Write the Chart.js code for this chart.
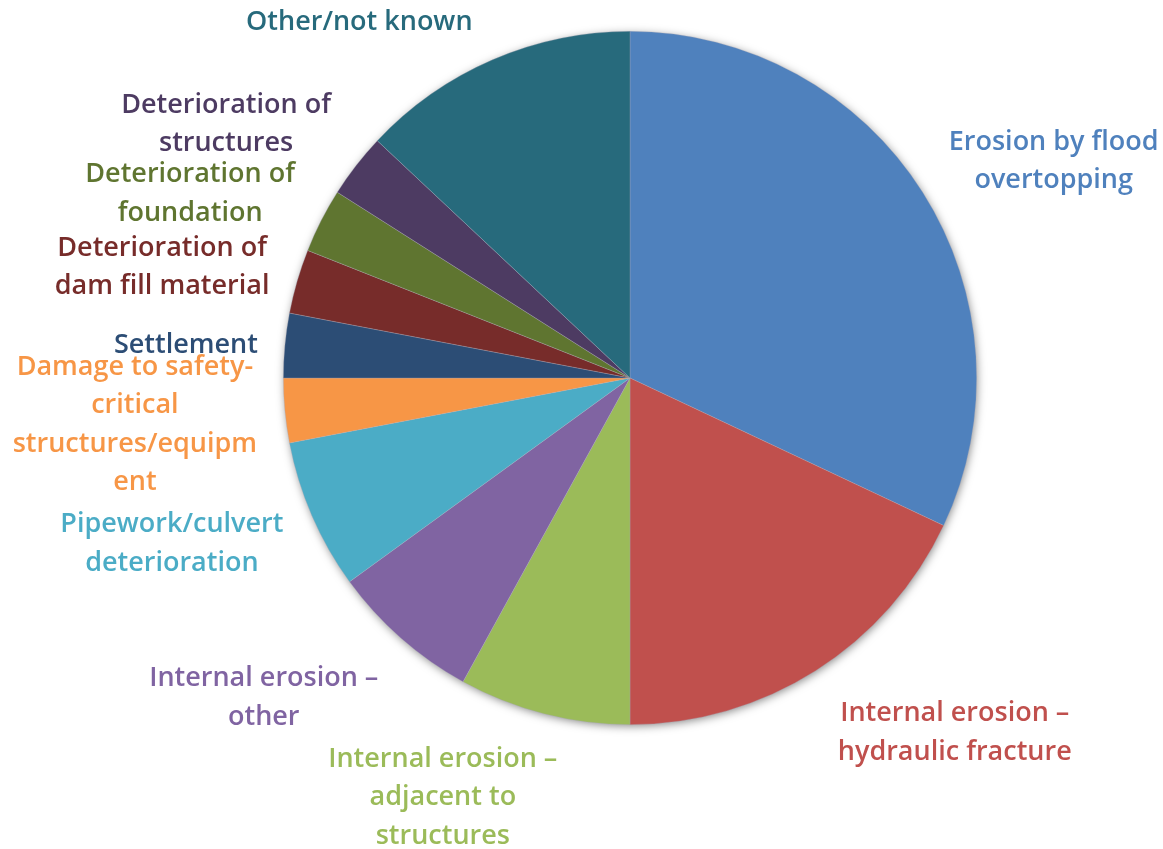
<!DOCTYPE html>
<html>
<head>
<meta charset="utf-8">
<title>Causes of dam incidents</title>
<script src="https://cdn.jsdelivr.net/npm/chart.js@4.4.1/dist/chart.umd.min.js"></script>
<style>
  html, body { margin: 0; padding: 0; background: #ffffff; }
  #wrap { width: 1163px; height: 849px; position: relative; }
</style>
</head>
<body>
<div id="wrap"><canvas id="pie" width="1163" height="849"></canvas></div>
<script>
// Categories, each split into the lines it is printed on
const categories = [
  ['Erosion by flood', 'overtopping'],
  ['Internal erosion \u2013', 'hydraulic fracture'],
  ['Internal erosion \u2013', 'adjacent to', 'structures'],
  ['Internal erosion \u2013', 'other'],
  ['Pipework/culvert', 'deterioration'],
  ['Damage to safety-', 'critical', 'structures/equipm', 'ent'],
  ['Settlement'],
  ['Deterioration of', 'dam fill material'],
  ['Deterioration of', 'foundation'],
  ['Deterioration of', 'structures'],
  ['Other/not known']
];

// Share of incidents per cause (%)
const shares = [32, 18, 8, 7, 7, 3, 3, 3, 3, 3, 13];

// Slice / label colours
const colors = [
  '#4F81BD', '#C0504D', '#9BBB59', '#8064A2', '#4BACC6', '#F79646',
  '#2C4D75', '#772C2A', '#5F7530', '#4D3B62', '#276A7C'
];

// Label offsets from the point where each slice's mid-angle meets the rim
const labelOffsets = [
  [131, -31], [139, 62], [-101, 84], [-137, 60], [-140, 28], [-150, 14],
  [-99, 0], [-135, -14], [-131, -27], [-130, -41], [-133, -38]
];

const FONT = '600 27px "Open Sans", Lato, sans-serif';
const LINE_H = 38.5;

// Soft outer shadow behind the pie
const pieShadow = {
  id: 'pieShadow',
  beforeDatasetsDraw(chart) {
    const arc = chart.getDatasetMeta(0).data[0];
    if (!arc) return;
    const ctx = chart.ctx;
    ctx.save();
    ctx.shadowColor = 'rgba(0,0,0,0.5)';
    ctx.shadowBlur = 10;
    ctx.shadowOffsetX = 1;
    ctx.shadowOffsetY = 2;
    ctx.fillStyle = '#ffffff';
    ctx.beginPath();
    ctx.arc(arc.x, arc.y, arc.outerRadius - 1, 0, Math.PI * 2);
    ctx.fill();
    ctx.restore();
  }
};

// Category names drawn outside each slice in the slice colour
const outsideLabels = {
  id: 'outsideLabels',
  afterDatasetsDraw(chart) {
    const ctx = chart.ctx;
    const meta = chart.getDatasetMeta(0);
    ctx.save();
    ctx.font = FONT;
    ctx.textAlign = 'center';
    ctx.textBaseline = 'middle';
    meta.data.forEach((arc, i) => {
      const mid = (arc.startAngle + arc.endAngle) / 2;
      const ax = arc.x + Math.cos(mid) * arc.outerRadius;
      const ay = arc.y + Math.sin(mid) * arc.outerRadius;
      const cx = ax + labelOffsets[i][0];
      const cy = ay + labelOffsets[i][1];
      const lines = categories[i];
      const top = cy - (lines.length - 1) * LINE_H / 2;
      ctx.fillStyle = colors[i];
      lines.forEach((ln, k) => ctx.fillText(ln, cx, top + k * LINE_H));
    });
    ctx.restore();
  }
};

new Chart(document.getElementById('pie'), {
  type: 'pie',
  data: {
    labels: categories.map(l => l.join(' ')),
    datasets: [{
      data: shares,
      backgroundColor: colors,
      borderColor: 'rgba(170,170,185,0.45)',
      borderWidth: 0.7
    }]
  },
  options: {
    responsive: false,
    animation: false,
    layout: { padding: { left: 283, right: 186, top: 31, bottom: 124 } },
    plugins: {
      legend: { display: false },
      tooltip: { enabled: false }
    }
  },
  plugins: [pieShadow, outsideLabels]
});
</script>
</body>
</html>
